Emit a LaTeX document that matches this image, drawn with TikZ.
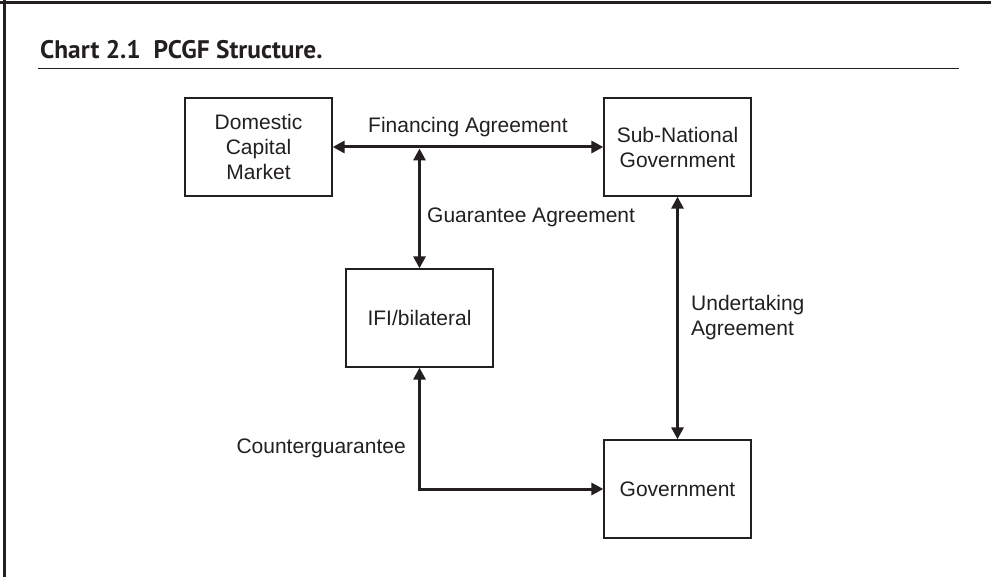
\documentclass[tikz,border=0pt]{standalone}
\usepackage{fontspec}
\setmainfont{Liberation Sans}
\newfontfamily\titlefont{PT Sans}
\usetikzlibrary{arrows.meta}
\definecolor{ink}{HTML}{231F20}
\tikzset{
  box/.style={draw=ink, line width=1.3pt, minimum width=147pt, minimum height=98pt, inner sep=0pt, align=center, font=\fontsize{21pt}{25pt}\selectfont, text=ink},
  lbl/.style={font=\fontsize{21pt}{25pt}\selectfont, text=ink, inner sep=0pt, align=left},
  conn/.style={draw=ink, line width=3pt, {Triangle[length=12pt,width=12pt]}-{Triangle[length=12pt,width=12pt]}, line join=miter},
}
\begin{document}
\begin{tikzpicture}[x=1pt,y=-1pt]
\useasboundingbox (0,0) rectangle (991,577);
% frame
\draw[ink, line width=3pt] (0,3) -- (991,3);
\draw[ink, line width=3pt] (4.5,0) -- (4.5,577);
% title
\node[anchor=base west, inner sep=0pt, text=ink, font=\titlefont\bfseries\fontsize{25.4pt}{29pt}\selectfont] (title) at (40,58.5) {Chart 2.1\ \ PCGF Structure.};
\draw[ink, line width=1.6pt] (38,68.5) -- (959,68.5);
% boxes
\node[box] (dcm) at (258.5,147) {Domestic\\Capital\\Market};
\node[box] (sng) at (677.5,147) {Sub-National\\Government};
\node[box] (ifi) at (419.5,318) {IFI/bilateral};
\node[box] (gov) at (677.5,489) {Government};
% connectors
\draw[conn] (dcm.east) -- (sng.west);
\coordinate (fj) at (419.5,148.5);
\draw[conn] (fj) -- (ifi.north);
\draw[conn] (sng.south) -- (gov.north);
\draw[conn] (ifi.south) -- (ifi.south |- gov.west) -- (gov.west);
% labels
\node[lbl] (lfin) at (468,127) {Financing Agreement};
\node[lbl, anchor=west] (lgua) at (427,217) {Guarantee Agreement};
\node[lbl, anchor=west] (lund) at (691,318) {Undertaking\\Agreement};
\node[lbl, anchor=east] (lcou) at (406,448) {Counterguarantee};
\end{tikzpicture}
\end{document}
